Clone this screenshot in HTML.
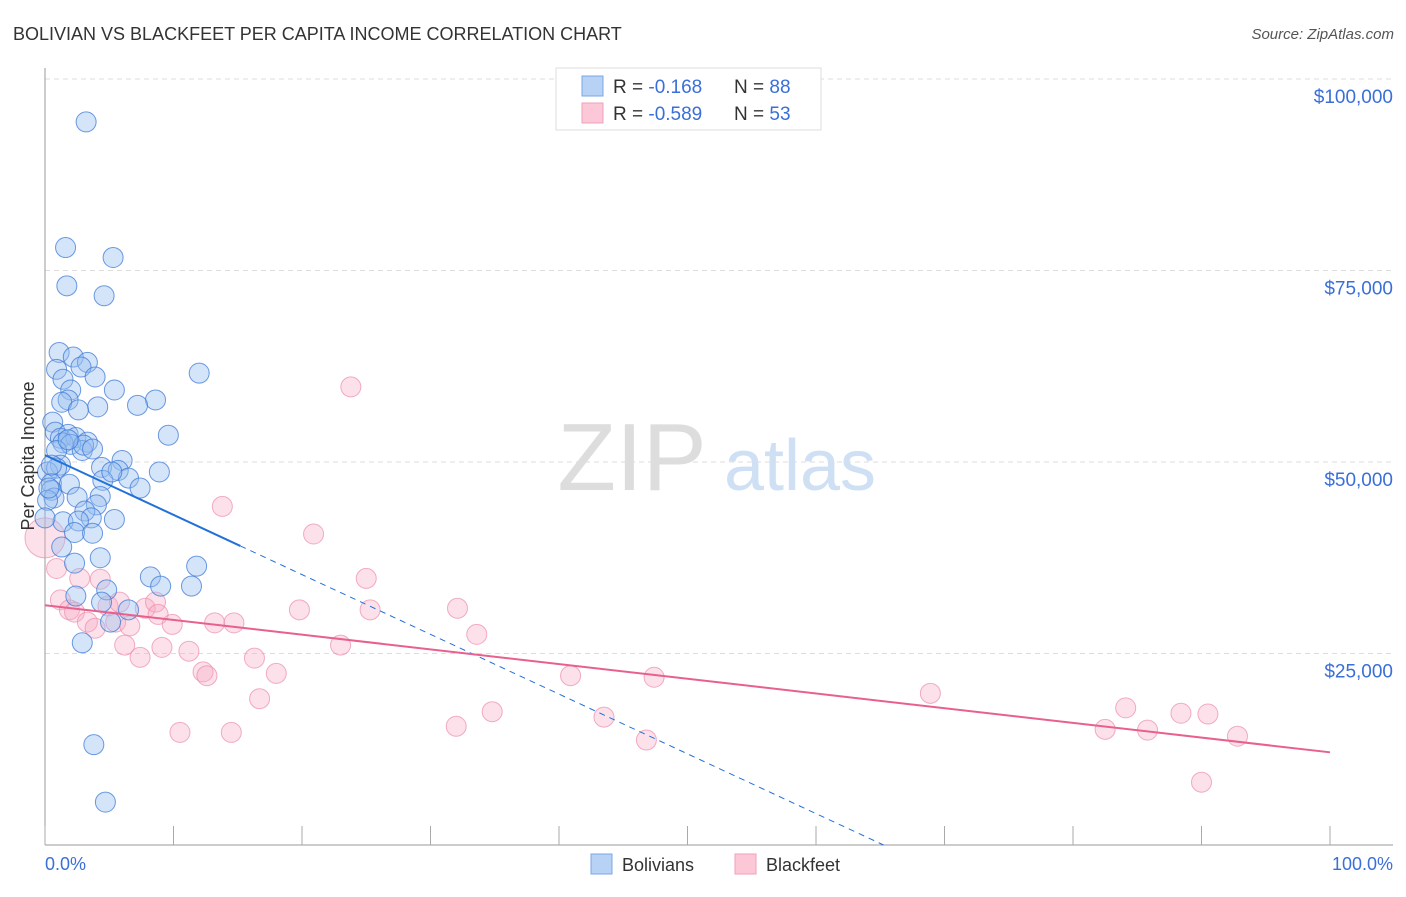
<!DOCTYPE html>
<html><head><meta charset="utf-8"><style>
body{margin:0;background:#fff;font-family:"Liberation Sans",sans-serif}
svg text{font-family:"Liberation Sans",sans-serif}
</style></head><body>
<svg id="chart" width="1406" height="892" viewBox="0 0 1406 892" xmlns="http://www.w3.org/2000/svg">
<text x="13" y="40" font-size="18" fill="#333">BOLIVIAN VS BLACKFEET PER CAPITA INCOME CORRELATION CHART</text>
<text x="1394" y="39" font-size="15" fill="#555" text-anchor="end" font-style="italic">Source: ZipAtlas.com</text>
<g id="grid"></g>
<g>
<text x="632" y="490" font-size="96" fill="#ddd" font-family="Liberation Serif,serif" text-anchor="middle">ZIP</text>
<text x="800" y="490" font-size="72" fill="#cfe0f5" text-anchor="middle">atlas</text>
</g>
<line x1="45" y1="68" x2="45" y2="845" stroke="#999" stroke-width="1"/>
<line x1="45" y1="845" x2="1393" y2="845" stroke="#999" stroke-width="1"/>
<g id="xticks"></g>
<g id="pts"></g>
<g id="trends"></g>
<text transform="translate(34,456) rotate(-90)" font-size="18" fill="#333" text-anchor="middle">Per Capita Income</text>
<text x="45" y="870" font-size="18" fill="#3a6fd8">0.0%</text>
<text x="1393" y="870" font-size="18" fill="#3a6fd8" text-anchor="end">100.0%</text>
<g>
<rect x="556" y="68" width="265" height="62" fill="#fff" stroke="#ddd"/>
<rect x="582" y="76" width="21" height="20" fill="#b8d2f5" stroke="#7aa7e6"/>
<rect x="582" y="103" width="21" height="20" fill="#fcc8d8" stroke="#f0a0b8"/>
<text x="613" y="93" font-size="19" fill="#333">R = <tspan fill="#3a6fd8"> -0.168</tspan><tspan x="734">N = </tspan><tspan fill="#3a6fd8">88</tspan></text>
<text x="613" y="120" font-size="19" fill="#333">R = <tspan fill="#3a6fd8">-0.589</tspan><tspan x="734">N = </tspan><tspan fill="#3a6fd8">53</tspan></text>
</g>
<g>
<rect x="591" y="854" width="21" height="20" fill="#b8d2f5" stroke="#7aa7e6"/>
<text x="622" y="871" font-size="18" fill="#333">Bolivians</text>
<rect x="735" y="854" width="21" height="20" fill="#fcc8d8" stroke="#f0a0b8"/>
<text x="766" y="871" font-size="18" fill="#333">Blackfeet</text>
</g>
</svg>
<script>
const yTicks=[25000,50000,75000,100000];
const yTickLabels=["$25,000","$50,000","$75,000","$100,000"];
const xTicks=[0,10,20,30,40,50,60,70,80,90,100];
const blueX=[3.2,1.6,5.3,1.7,4.6,1.1,2.2,3.3,12.0,0.9,2.8,3.9,1.4,5.4,2.0,1.8,1.3,8.6,7.2,4.1,2.6,0.6,9.6,0.8,1.8,1.2,2.4,3.3,1.4,2.0,2.9,0.9,6.0,1.2,4.4,8.9,5.7,0.2,0.9,6.5,0.5,4.5,7.4,1.9,0.5,2.5,4.3,0.7,4.0,3.1,5.4,1.4,3.6,2.6,2.3,3.7,1.3,4.3,2.3,11.8,8.2,9.0,11.4,4.8,2.4,4.4,6.5,5.1,2.9,3.8,4.7,0.2,0.5,0.3,0.0,3.0,5.2,3.7,1.8];
const blueY=[94.4,78.0,76.7,73.0,71.7,64.3,63.7,63.0,61.6,62.1,62.4,61.1,60.8,59.4,59.4,58.1,57.8,58.1,57.4,57.2,56.8,55.2,53.5,53.9,53.6,53.1,53.2,52.6,52.5,52.3,51.5,51.5,50.2,49.6,49.3,48.7,48.9,48.7,49.2,47.9,47.2,47.6,46.6,47.1,46.3,45.4,45.5,45.3,44.4,43.6,42.5,42.2,42.7,42.3,40.8,40.7,38.9,37.5,36.8,36.4,35.0,33.8,33.8,33.3,32.5,31.7,30.7,29.1,26.4,13.1,5.6,45.0,49.6,46.6,42.7,52.2,48.7,51.7,52.9];
const pinkX=[0.0,0.9,1.2,1.9,2.3,2.7,3.3,3.9,4.3,4.9,5.5,5.8,6.2,6.6,7.4,7.8,8.6,8.8,9.1,9.9,10.5,11.2,12.3,12.6,13.2,13.8,14.7,14.5,16.3,16.7,18.0,19.8,20.9,23.0,23.8,25.0,25.3,32.0,32.1,33.6,34.8,40.9,43.5,46.8,47.4,68.9,82.5,84.1,85.8,88.4,90.5,92.8,90.0];
const pinkY=[40.1,36.1,32.0,30.7,30.4,34.8,29.1,28.3,34.7,31.2,29.1,31.7,26.1,28.6,24.5,30.9,31.7,30.1,25.8,28.8,14.7,25.3,22.6,22.1,29.0,44.2,29.0,14.7,24.4,19.1,22.4,30.7,40.6,26.1,59.8,34.8,30.7,15.5,30.9,27.5,17.4,22.1,16.7,13.7,21.9,19.8,15.1,17.9,15.0,17.2,17.1,14.2,8.2];
const blueTrend=[50.9,-0.78];
const pinkTrend=[31.3,-0.192];
const NS="http://www.w3.org/2000/svg";
const sx=v=>45+v*12.85;
const sy=v=>845-v*1000*191.5/25000;
function mk(tag,attrs,parent){const e=document.createElementNS(NS,tag);for(const k in attrs)e.setAttribute(k,attrs[k]);parent.appendChild(e);return e;}
const grid=document.getElementById('grid');
yTicks.forEach((t,i)=>{
 const y=sy(t/1000);
 const l=mk('line',{x1:45,x2:1393,y1:y,y2:y,stroke:'#ddd','stroke-dasharray':'5,4'},grid);
 
 
 const tx=mk('text',{x:1393,y:y+24,'font-size':19,fill:'#3a6fd8','text-anchor':'end'},grid);
 tx.textContent=yTickLabels[i];
 
 
});
const xt=document.getElementById('xticks');
xTicks.forEach(t=>{
 const l=mk('line',{x1:sx(t),x2:sx(t),y1:826,y2:845,stroke:'#aaa'},xt);
 
 
});
const pts=document.getElementById('pts');
pinkX.forEach((x,i)=>{
 const c=mk('circle',{cx:sx(x),cy:sy(pinkY[i]),r:i===0?20:10,fill:'rgba(246,170,195,0.35)',stroke:'rgba(236,140,170,0.7)','stroke-width':1},pts);
 
 
});
blueX.forEach((x,i)=>{
 const c=mk('circle',{cx:sx(x),cy:sy(blueY[i]),r:10,fill:'rgba(150,190,240,0.4)',stroke:'rgba(60,120,215,0.75)','stroke-width':1},pts);
 
 
});
const tr=document.getElementById('trends');
const bl=mk('line',{x1:sx(0),y1:sy(blueTrend[0]),x2:sx(15.2),y2:sy(blueTrend[0]+blueTrend[1]*15.2),stroke:'#2270d8','stroke-width':2},tr);


const xEnd=-blueTrend[0]/blueTrend[1];
const bd=mk('line',{x1:sx(15.2),y1:sy(blueTrend[0]+blueTrend[1]*15.2),x2:sx(xEnd),y2:sy(0),stroke:'#2270d8','stroke-width':1,'stroke-dasharray':'6,5'},tr);


const pl=mk('line',{x1:sx(0),y1:sy(pinkTrend[0]),x2:sx(100),y2:sy(pinkTrend[0]+pinkTrend[1]*100),stroke:'#e8608e','stroke-width':2},tr);


</script>
</body></html>
